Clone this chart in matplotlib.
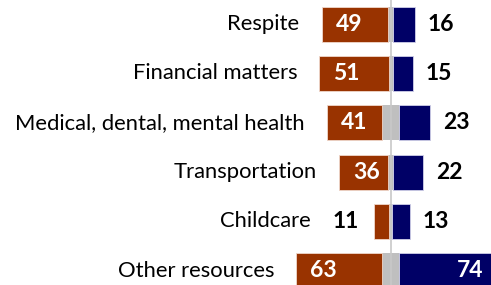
import matplotlib
matplotlib.use("Agg")
import matplotlib.pyplot as plt

categories = ["Respite", "Financial matters", "Medical, dental, mental health",
              "Transportation", "Childcare", "Other resources"]
left_vals = [49, 51, 41, 36, 11, 63]
neutral_vals = [4, 3, 12, 4, 2, 13]
right_vals = [16, 15, 23, 22, 13, 74]

ORANGE = "#993300"
NAVY = "#000066"
GRAY = "#BFBFBF"

plt.rcParams['font.family'] = ['Lato', 'DejaVu Sans']

fig = plt.figure(figsize=(4.91, 2.85), dpi=100)
ax = fig.add_axes([0, 0, 1, 1])

ys = list(range(len(categories)))
h = 0.71
fs_cat = 15.8
fs_num = 16.5
for y, cat, l, n, r in zip(ys, categories, left_vals, neutral_vals, right_vals):
    ax.barh(y, n, left=-n / 2, height=h, color=GRAY, edgecolor="none", zorder=2)
    ax.barh(y, l, left=-n / 2 - l, height=h, color=ORANGE, edgecolor="#f0d8cc", linewidth=0.6, zorder=2)
    ax.barh(y, r, left=n / 2, height=h, color=NAVY, edgecolor="#d0d0e8", linewidth=0.6, zorder=2)
    start = -n / 2 - l
    end = n / 2 + r
    kw = dict(textcoords="offset pixels", va="center", zorder=4, annotation_clip=False)
    if l >= 20:
        ax.annotate(str(l), (start, y), xytext=(14, 0), ha="left", color="white",
                    fontweight="bold", fontsize=fs_num, **kw)
        ax.annotate(cat, (start, y), xytext=(-22, 0), ha="right", color="black",
                    fontsize=fs_cat, **kw)
    else:
        ax.annotate(str(l), (start, y), xytext=(-16, 0), ha="right", color="black",
                    fontweight="bold", fontsize=fs_num, **kw)
        ax.annotate(cat, (start, y), xytext=(-64, 0), ha="right", color="black",
                    fontsize=fs_cat, **kw)
    if r >= 50:
        ax.annotate(str(r), (end, y), xytext=(-16, 0), ha="right", color="white",
                    fontweight="bold", fontsize=fs_num, **kw)
    else:
        ax.annotate(str(r), (end, y), xytext=(13, 0), ha="left", color="black",
                    fontweight="bold", fontsize=fs_num, **kw)

ax.axvline(0, color="#c8c8c8", lw=1.2, zorder=3)
ax.set_xlim(-288.3, 74.1)
ax.set_ylim(5.29, -0.49)
ax.axis("off")
fig.savefig("out.png", dpi=100)
